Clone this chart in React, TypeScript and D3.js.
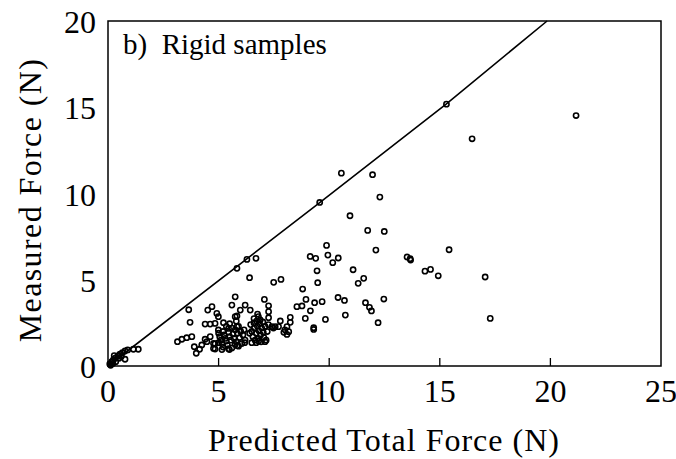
import React from "react";
import * as d3 from "d3";

const xTicks = [0, 5, 10, 15, 20, 25];
const yTicks = [0, 5, 10, 15, 20];
const title = "b)  Rigid samples";
const xLabel = "Predicted Total Force (N)";
const yLabel = "Measured Force (N)";

// reference line (measured = predicted)
const lineX = [0, 9.6, 15.3, 19.85];
const lineY = [0, 9.5, 15.2, 20];

const predicted = [
  15.3, 21.16, 16.46, 10.55, 11.96, 12.29, 9.57, 10.94, 11.74, 12.49, 9.88, 12.11, 15.42, 9.94, 9.14, 9.39, 10.41, 10.16, 13.52, 13.68, 13.66,
  6.28, 6.69, 5.83, 6.4, 11.08, 9.45, 14.33, 14.58, 14.93, 17.05, 11.56, 11.31, 9.48, 7.49, 7.82, 8.8, 5.75, 10.4, 10.69, 12.47, 8.95, 9.68,
  9.34, 11.64, 7.07, 7.26, 8.54, 8.77, 11.82, 11.91, 9.15, 3.65, 5.6, 6.2, 4.7, 4.51, 4.92, 5.98, 6.43, 7.26, 6.76, 10.73, 5.83, 4.99, 5.75,
  6.8, 7.26, 8.24, 8.92, 9.83, 17.28, 12.21, 6.88, 3.71, 4.39, 4.62, 4.84, 5.22, 7.79, 8.24, 9.3, 9.3,
  3.14, 3.34, 3.56, 3.79, 3.9, 4.24, 4.14, 3.99, 4.39, 4.47, 4.62, 4.77, 4.77, 4.99, 5.45, 5.83,
  5.0, 5.05, 5.1, 5.15, 5.2, 5.25, 5.3, 5.35, 5.4, 5.45, 5.5, 5.55, 5.6, 5.65, 5.7, 5.75, 5.8, 5.85, 5.9, 5.95, 6.0, 6.05, 5.2, 5.6, 5.9,
  6.1, 5.35, 5.0, 5.75, 5.5, 5.8, 6.15, 6.2, 5.45, 5.15,
  6.45, 6.5, 6.55, 6.6, 6.62, 6.65, 6.7, 6.72, 6.75, 6.8, 6.82, 6.85, 6.9, 6.92, 6.95, 7.0, 7.02, 7.05, 7.1, 7.15, 6.5, 6.7, 7.2, 6.4, 6.6,
  7.25,
  7.41, 7.48, 7.56, 7.71, 8.09, 8.17, 8.09, 8.0, 7.95,
  5.49, 5.84, 6.18, 7.1, 6.81, 4.84, 4.84,
  0.17, 0.24, 0.32, 0.44, 0.54, 0.65, 0.77, 0.89, 1.15, 1.37, 0.77, 0.08, 0.12, 0.22, 0.35, 0.28, 0.5, 0.6,
];

const measured = [
  15.18, 14.52, 13.17, 11.18, 11.09, 9.79, 9.48, 8.71, 7.86, 7.8, 6.99, 6.72, 6.74, 6.43, 6.35, 6.24, 6.26, 5.99, 6.32, 6.14, 6.22,
  6.18, 6.24, 5.66, 5.12, 5.58, 5.52, 5.5, 5.6, 5.23, 5.16, 5.08, 4.79, 4.83, 4.85, 5.02, 4.46, 4.01, 3.97, 3.8, 3.88, 3.86, 3.73,
  3.67, 3.67, 3.86, 3.49, 3.44, 3.48, 3.4, 3.19, 3.2, 3.26, 3.53, 3.53, 3.44, 3.24, 3.05, 3.24, 3.24, 3.15, 3.01, 2.95, 2.9, 2.86, 2.86,
  2.86, 2.8, 2.82, 2.76, 2.7, 2.76, 2.51, 2.67, 2.53, 2.43, 2.43, 2.47, 2.51, 2.61, 2.53, 2.22, 2.12,
  1.41, 1.55, 1.64, 1.7, 1.12, 1.22, 0.97, 0.74, 1.55, 1.41, 1.7, 1.31, 1.02, 2.09, 2.18, 2.28,
  1.9, 1.7, 1.5, 1.3, 2.0, 1.8, 1.6, 1.45, 1.2, 1.95, 1.7, 1.5, 2.2, 1.85, 1.6, 2.1, 1.4, 1.9, 2.3, 1.65, 2.0, 1.3, 1.1, 1.05, 1.15,
  1.8, 2.3, 1.35, 1.25, 2.45, 2.6, 2.1, 1.5, 1.0, 0.95,
  2.4, 2.0, 1.7, 2.5, 2.2, 1.5, 1.9, 2.6, 2.3, 1.6, 2.05, 2.45, 1.8, 1.4, 2.2, 2.55, 1.95, 1.65, 2.3, 1.5, 1.35, 1.35, 2.0, 1.9, 2.75,
  2.4,
  2.28, 2.2, 2.28, 2.28, 2.28, 1.99, 1.83, 2.1, 1.95,
  0.95, 1.18, 1.35, 1.41, 1.45, 1.29, 0.98,
  0.25, 0.35, 0.45, 0.58, 0.68, 0.77, 0.87, 0.93, 0.97, 0.97, 0.39, 0.12, 0.04, 0.15, 0.25, 0.6, 0.45, 0.55,
];

const W = 676;
const H = 459;
const M = { left: 108, right: 661, top: 21, bottom: 366 };
const FONT = "'Liberation Serif', 'Times New Roman', serif";

export default function App() {
  const x = d3.scaleLinear().domain([0, 25]).range([M.left, M.right]);
  const y = d3.scaleLinear().domain([0, 20]).range([M.bottom, M.top]);
  const line = d3
    .line<number>()
    .x((d) => x(d))
    .y((_, i) => y(lineY[i]));
  const pts = predicted.map((p, i) => [p, measured[i]]);

  return (
    <svg
      width={W}
      height={H}
      style={{ position: "absolute", left: 0, top: 0, background: "#fff" }}
      fontFamily={FONT}
    >
      <rect x={0} y={0} width={W} height={H} fill="#fff" />
      <path d={line(lineX) || ""} fill="none" stroke="#000" strokeWidth={1.6} />
      {pts.map((d, i) => (
        <circle
          key={i}
          cx={x(d[0])}
          cy={y(d[1])}
          r={2.6}
          fill="none"
          stroke="#000"
          strokeWidth={1.6}
        />
      ))}
      <rect
        x={M.left}
        y={M.top}
        width={M.right - M.left}
        height={M.bottom - M.top}
        fill="none"
        stroke="#000"
        strokeWidth={1.5}
      />
      {xTicks
        .filter((t) => t > 0 && t < 25)
        .map((t) => (
          <line key={"xt" + t} x1={x(t)} x2={x(t)} y1={M.bottom} y2={M.bottom - 8} stroke="#000" strokeWidth={1.3} />
        ))}
      {xTicks.map((t) => (
        <text key={"xl" + t} x={x(t)} y={402} fontSize={32} textAnchor="middle" fill="#000">
          {t}
        </text>
      ))}
      {yTicks.map((t) => (
        <text key={"yl" + t} x={96} y={y(t) + 12} fontSize={32} textAnchor="end" fill="#000">
          {t}
        </text>
      ))}
      <text x={123} y={54} fontSize={29} fill="#000" style={{ whiteSpace: "pre" }}>
        {title}
      </text>
      <text x={384} y={451} fontSize={32} textAnchor="middle" letterSpacing={1} fill="#000">
        {xLabel}
      </text>
      <text
        transform={`translate(41,200) rotate(-90)`}
        fontSize={32}
        textAnchor="middle"
        letterSpacing={1.4}
        fill="#000"
      >
        {yLabel}
      </text>
    </svg>
  );
}
